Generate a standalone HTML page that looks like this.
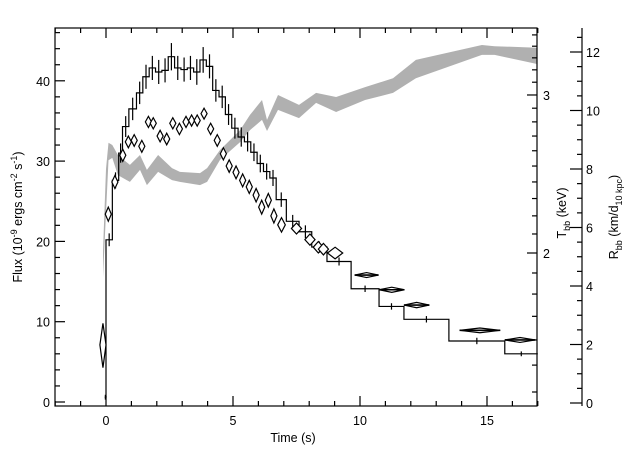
<!DOCTYPE html>
<html><head><meta charset="utf-8">
<style>
html,body{margin:0;padding:0;background:#fff;}
svg{display:block;font-family:"Liberation Sans",sans-serif;}
text{fill:#000;font-size:12.5px;}
</style></head>
<body>
<svg id="chart" width="640" height="457" viewBox="0 0 640 457">
<defs><clipPath id="clip"><rect x="55" y="28" width="482" height="378"/></clipPath></defs>
<g id="band" clip-path="url(#clip)"></g>
<g id="hist"></g>
<g id="diam" clip-path="url(#clip)"></g>
<g id="axes"></g>
<text x="293" y="442" text-anchor="middle">Time (s)</text>
<text transform="translate(22,217) rotate(-90)" text-anchor="middle">Flux (10<tspan dy="-5" font-size="9">-9</tspan><tspan dy="5"> ergs cm</tspan><tspan dy="-5" font-size="9">-2</tspan><tspan dy="5"> s</tspan><tspan dy="-5" font-size="9">-1</tspan><tspan dy="5">)</tspan></text>
<text transform="translate(566,213) rotate(-90)" text-anchor="middle">T<tspan dy="4" font-size="9">bb</tspan><tspan dy="-4"> (keV)</tspan></text>
<text transform="translate(618,217) rotate(-90)" text-anchor="middle">R<tspan dy="4" font-size="9">bb</tspan><tspan dy="-4"> (km/d</tspan><tspan dy="4" font-size="9">10 kpc</tspan><tspan dy="-4">)</tspan></text>
</svg>
<script>
const histEdges=[-0.05,0,0.25,0.5,0.65,0.9,1.2,1.45,1.7,1.95,2.2,2.45,2.7,2.95,3.2,3.45,3.7,3.95,4.2,4.45,4.7,4.95,5.2,5.45,5.7,5.95,6.2,6.45,6.7,7.1,7.6,8.1,8.7,9.65,10.75,11.73,13.5,15.7,17];
const fluxValues=[0.6,20.2,27.6,31,34.3,36.5,38.5,40.5,41.6,41.1,41.3,43,41.6,41.4,41.6,41.1,42.6,41.8,38.8,38,35.8,34.1,33,32.4,31.1,29.7,28.7,27.9,25.2,22.5,21.2,19.3,17.5,14.1,11.9,10.3,7.6,6.0];
const fluxErrors=[0.3,0.8,1.0,1.2,1.3,1.4,1.4,1.5,1.5,1.5,1.5,1.7,1.5,1.5,1.5,1.6,1.6,1.5,1.4,1.4,1.3,1.3,1.2,1.2,1.1,1.1,1.0,1.0,0.9,0.8,0.8,0.7,0.5,0.4,0.4,0.4,0.4,0.3];
const tempTimes=[-0.12,0.09,0.35,0.66,0.88,1.11,1.41,1.67,1.86,2.13,2.39,2.63,2.89,3.15,3.37,3.59,3.86,4.12,4.38,4.62,4.85,5.12,5.38,5.64,5.91,6.13,6.39,6.61,6.91,7.5,8.03,8.36,8.56,9.02,10.26,11.25,12.23,14.72,16.3];
const tempValues=[1.58,2.21,2.40,2.57,2.66,2.67,2.63,2.80,2.79,2.70,2.68,2.79,2.75,2.80,2.81,2.81,2.86,2.75,2.67,2.58,2.50,2.46,2.41,2.37,2.32,2.25,2.29,2.20,2.15,2.13,2.07,2.03,2.02,2.00,1.89,1.82,1.75,1.64,1.60];
const timeErrors=[0.12,0.12,0.12,0.12,0.12,0.12,0.12,0.12,0.12,0.12,0.12,0.12,0.12,0.12,0.12,0.12,0.12,0.12,0.12,0.12,0.12,0.12,0.12,0.12,0.12,0.12,0.12,0.12,0.15,0.2,0.2,0.2,0.2,0.3,0.47,0.5,0.5,0.8,0.6];
const tempErrors=[0.09,0.04,0.04,0.04,0.04,0.04,0.04,0.04,0.04,0.04,0.04,0.04,0.04,0.04,0.04,0.04,0.04,0.04,0.04,0.04,0.04,0.04,0.04,0.04,0.04,0.04,0.04,0.04,0.04,0.03,0.03,0.03,0.03,0.03,0.012,0.012,0.012,0.01,0.01];
const bandTimes=[-0.12,0.0,0.1,0.25,0.47,0.94,1.34,1.61,2.05,2.6,2.91,3.7,3.98,4.49,5.28,5.67,6.14,6.34,6.77,7.6,8.27,9.06,10.2,11.3,12.2,14.8,15.3,17.2];
const bandLow=[4.3,6.5,8.3,8.38,7.79,7.56,7.97,7.45,7.9,7.62,7.56,7.45,7.56,8.31,8.92,9.33,9.68,9.3,10.02,9.74,10.26,9.95,10.36,10.6,11.1,11.9,11.9,11.55];
const bandHigh=[5.2,8.0,8.9,8.82,8.48,8.14,8.48,7.97,8.48,8.03,7.9,7.86,8.03,8.65,9.33,9.85,10.36,9.68,10.53,10.19,10.6,10.46,10.8,11.1,11.73,12.24,12.2,12.14];
const xTicks=[0,5,10,15];
const fluxTicks=[0,10,20,30,40];
const tempTicks=[2,3];
const radiusTicks=[0,2,4,6,8,10,12];

const X=t=>106+t*25.4;
const Y=f=>402-f*8.03;
const TY=T=>253-Math.log(T/2)/0.002566;
const RY=r=>403-r*29.25;
const NS="http://www.w3.org/2000/svg";
function mk(tag,parent,attrs){const e=document.createElementNS(NS,tag);for(const k in attrs)e.setAttribute(k,attrs[k]);parent.appendChild(e);return e;}

// band
const bandG=document.getElementById('band');
let pts=bandTimes.map((t,i)=>X(t).toFixed(1)+','+RY(bandHigh[i]).toFixed(1));
for(let i=bandTimes.length-1;i>=0;i--)pts.push(X(bandTimes[i]).toFixed(1)+','+RY(bandLow[i]).toFixed(1));
const poly=mk('polygon',bandG,{points:pts.join(' '),fill:'#b0b0b0',stroke:'none'});



// histogram
const histG=document.getElementById('hist');
let d='M'+X(histEdges[0])+','+Y(fluxValues[0]);
for(let i=0;i<fluxValues.length;i++){
  d+=' L'+X(histEdges[i])+','+Y(fluxValues[i])+' L'+X(histEdges[i+1])+','+Y(fluxValues[i]);
}
const hp=mk('path',histG,{d:d,fill:'none',stroke:'#000','stroke-width':1.2});


for(let i=0;i<fluxValues.length;i++){
  const c=X((histEdges[i]+histEdges[i+1])/2);
  const eb=mk('line',histG,{x1:c,x2:c,y1:Y(fluxValues[i]+fluxErrors[i]),y2:Y(fluxValues[i]-fluxErrors[i]),stroke:'#000','stroke-width':1.2});
  
  
}

// diamonds
const dG=document.getElementById('diam');
for(let i=0;i<tempTimes.length;i++){
  const cx=X(tempTimes[i]),cy=TY(tempValues[i]);
  const hw=timeErrors[i]*25.4;
  const top=TY(tempValues[i]+tempErrors[i]),bot=TY(tempValues[i]-tempErrors[i]);
  const dm=mk('polygon',dG,{points:`${cx-hw},${cy} ${cx},${top} ${cx+hw},${cy} ${cx},${bot}`,fill:'#fff',stroke:'#000','stroke-width':1.2});
  
  
  if(timeErrors[i]>0.3){
    const hl=mk('line',dG,{x1:cx-hw,x2:cx+hw,y1:cy,y2:cy,stroke:'#000','stroke-width':1.6});
    
    
  }
}

// axes
const aG=document.getElementById('axes');
function ln(x1,y1,x2,y2,name){const l=mk('line',aG,{x1,y1,x2,y2,stroke:'#000','stroke-width':1.2});}
function tx(x,y,s,anchor,name){const t=mk('text',aG,{x,y,'text-anchor':anchor});t.textContent=s;}
mk('rect',aG,{x:55,y:28,width:482,height:378,fill:'none',stroke:'#000','stroke-width':1.2});
for(let t=-2;t<=17;t++){
  const maj=t%5===0, L=maj?10:5;
  ln(X(t),406,X(t),406-L,'x-tick');ln(X(t),28,X(t),28+L,'x-top-tick');
}
xTicks.forEach(v=>tx(X(v),425,String(v),'middle','x-tick-label'));
for(let f=0;f<=46;f+=2){
  const L=f%10===0?10:5;
  ln(55,Y(f),55+L,Y(f),'y-tick');
}
fluxTicks.forEach(v=>tx(50,Y(v)+5,String(v),'end','y-tick-label'));
for(let T=1.4;T<=3.55;T+=0.1){
  const maj=Math.abs(T-2)<0.01||Math.abs(T-3)<0.01;
  ln(537,TY(T),537-(maj?10:5),TY(T),'temperature-tick');
}
tempTicks.forEach(v=>tx(543,TY(v)+5,String(v),'start','temperature-tick-label'));
ln(582,28,582,406,'radius-axis-line');
for(let r=0;r<=12.5;r+=0.5){
  const maj=r%2===0;
  ln(582,RY(r),582-(maj?12:5),RY(r),'radius-tick');
}
radiusTicks.forEach(v=>tx(586,RY(v)+5,String(v),'start','radius-tick-label'));
</script>
</body></html>
